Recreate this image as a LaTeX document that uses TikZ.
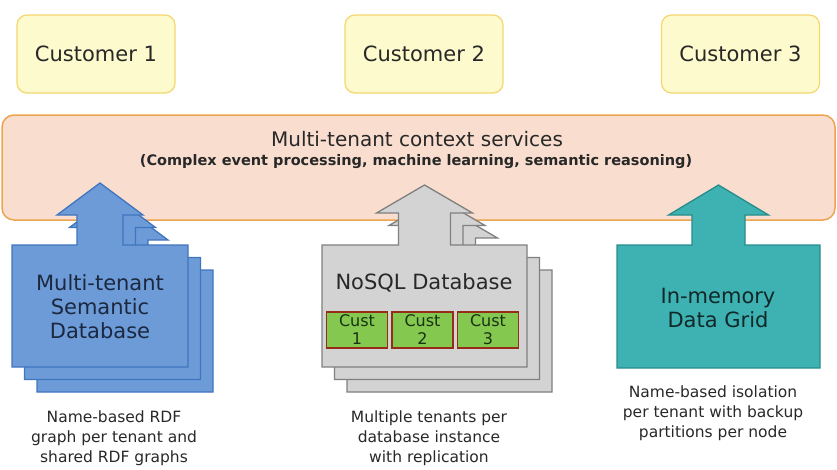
\documentclass[tikz,border=0pt]{standalone}
\usepackage{fontspec}
\setmainfont{DejaVu Sans}
\usepackage{tikz}
\definecolor{custfill}{RGB}{253,251,206}
\definecolor{custline}{RGB}{244,214,110}
\definecolor{ctxfill}{RGB}{249,222,207}
\definecolor{ctxline}{RGB}{236,164,80}
\definecolor{semfill}{RGB}{108,155,215}
\definecolor{semline}{RGB}{64,116,190}
\definecolor{semtext}{RGB}{28,40,64}
\definecolor{nosqlfill}{RGB}{211,211,211}
\definecolor{nosqlline}{RGB}{128,128,128}
\definecolor{gridfill}{RGB}{62,178,178}
\definecolor{gridline}{RGB}{40,140,140}
\definecolor{gridtext}{RGB}{16,40,40}
\definecolor{cellfill}{RGB}{132,200,80}
\definecolor{cellline}{RGB}{150,45,25}
\definecolor{celltext}{RGB}{25,50,15}
\definecolor{inktext}{RGB}{40,40,40}
% style, centre x, box half, shaft half, head half, head base, tip, box bottom
\newcommand{\dbarrow}[8]{%
  \draw[#1] (#2-#3,#8) -- (#2-#3,245) -- (#2-#4,245) -- (#2-#4,#6) -- (#2-#5,#6) -- (#2,#7)
    -- (#2+#5,#6) -- (#2+#4,#6) -- (#2+#4,245) -- (#2+#3,245) -- (#2+#3,#8) -- cycle;}

\begin{document}
\begin{tikzpicture}[x=1pt,y=-1pt,
    custbox/.style={draw=custline,fill=custfill,line width=1.2pt,rounded corners=10pt,
      minimum width=158pt,minimum height=78pt,font=\fontsize{21}{24}\selectfont,text=inktext},
    ctxband/.style={draw=ctxline,fill=ctxfill,line width=1.5pt,rounded corners=12pt,
      minimum width=833pt,minimum height=105pt},
    semarrow/.style={draw=semline,fill=semfill,line width=1.3pt},
    nosqlarrow/.style={draw=nosqlline,fill=nosqlfill,line width=1.3pt},
    gridarrow/.style={draw=gridline,fill=gridfill,line width=1.3pt},
    dblabel/.style={font=\fontsize{21}{24}\selectfont,align=center,inner sep=0pt},
    custcell/.style={draw=cellline,fill=cellfill,line width=1.8pt,minimum width=61pt,
      minimum height=36pt,inner sep=0pt,align=center,font=\fontsize{16}{18}\selectfont,text=celltext},
    note/.style={font=\fontsize{15.5}{20}\selectfont,align=center,text=inktext,inner sep=0pt}]
  \useasboundingbox (0,0) rectangle (837,469);
  \foreach \x/\i in {96/1,424/2,740.5/3}
    \node[custbox] (cust\i) at (\x,54) {Customer \i};
  \node[ctxband] (ctx) at (418.5,167.5) {};
  \node[font=\fontsize{20}{24}\selectfont,text=inktext,anchor=base,inner sep=0pt] (ctxname)
    at (417,146) {Multi-tenant context services};
  \node[font=\fontsize{14.5}{17}\selectfont\bfseries,text=inktext,anchor=base,inner sep=0pt] (ctxlist)
    at (416,165.5) {(Complex event processing, machine learning, semantic reasoning)};
  \foreach \d in {25,12.5,0} {
    \dbarrow{semarrow,shift={(\d,\d)}}{100}{88}{23}{43}{215}{183}{367}
    \dbarrow{nosqlarrow,shift={(\d,\d)}}{424.5}{102.5}{26}{48}{213}{185}{367}
  }
  \dbarrow{gridarrow}{718.5}{101.5}{26.5}{50}{215}{185}{368}
  \node[dblabel,text=semtext] (semdb) at (100,307) {Multi-tenant\\Semantic\\Database};
  \node[dblabel,text=inktext] (nosqldb) at (424,283) {NoSQL Database};
  \foreach \x/\i in {357/1,422.5/2,488/3}
    \node[custcell] (cell\i) at (\x,330) {Cust\\\i};
  \node[dblabel,text=gridtext] (griddb) at (718,307.5) {In-memory\\Data Grid};
  \node[note] (semnote) at (114,438) {Name-based RDF\\graph per tenant and\\shared RDF graphs};
  \node[note] (nosqlnote) at (429,438) {Multiple tenants per\\database instance\\with replication};
  \node[note] (gridnote) at (713,413) {Name-based isolation\\per tenant with backup\\partitions per node};
\end{tikzpicture}
\end{document}
